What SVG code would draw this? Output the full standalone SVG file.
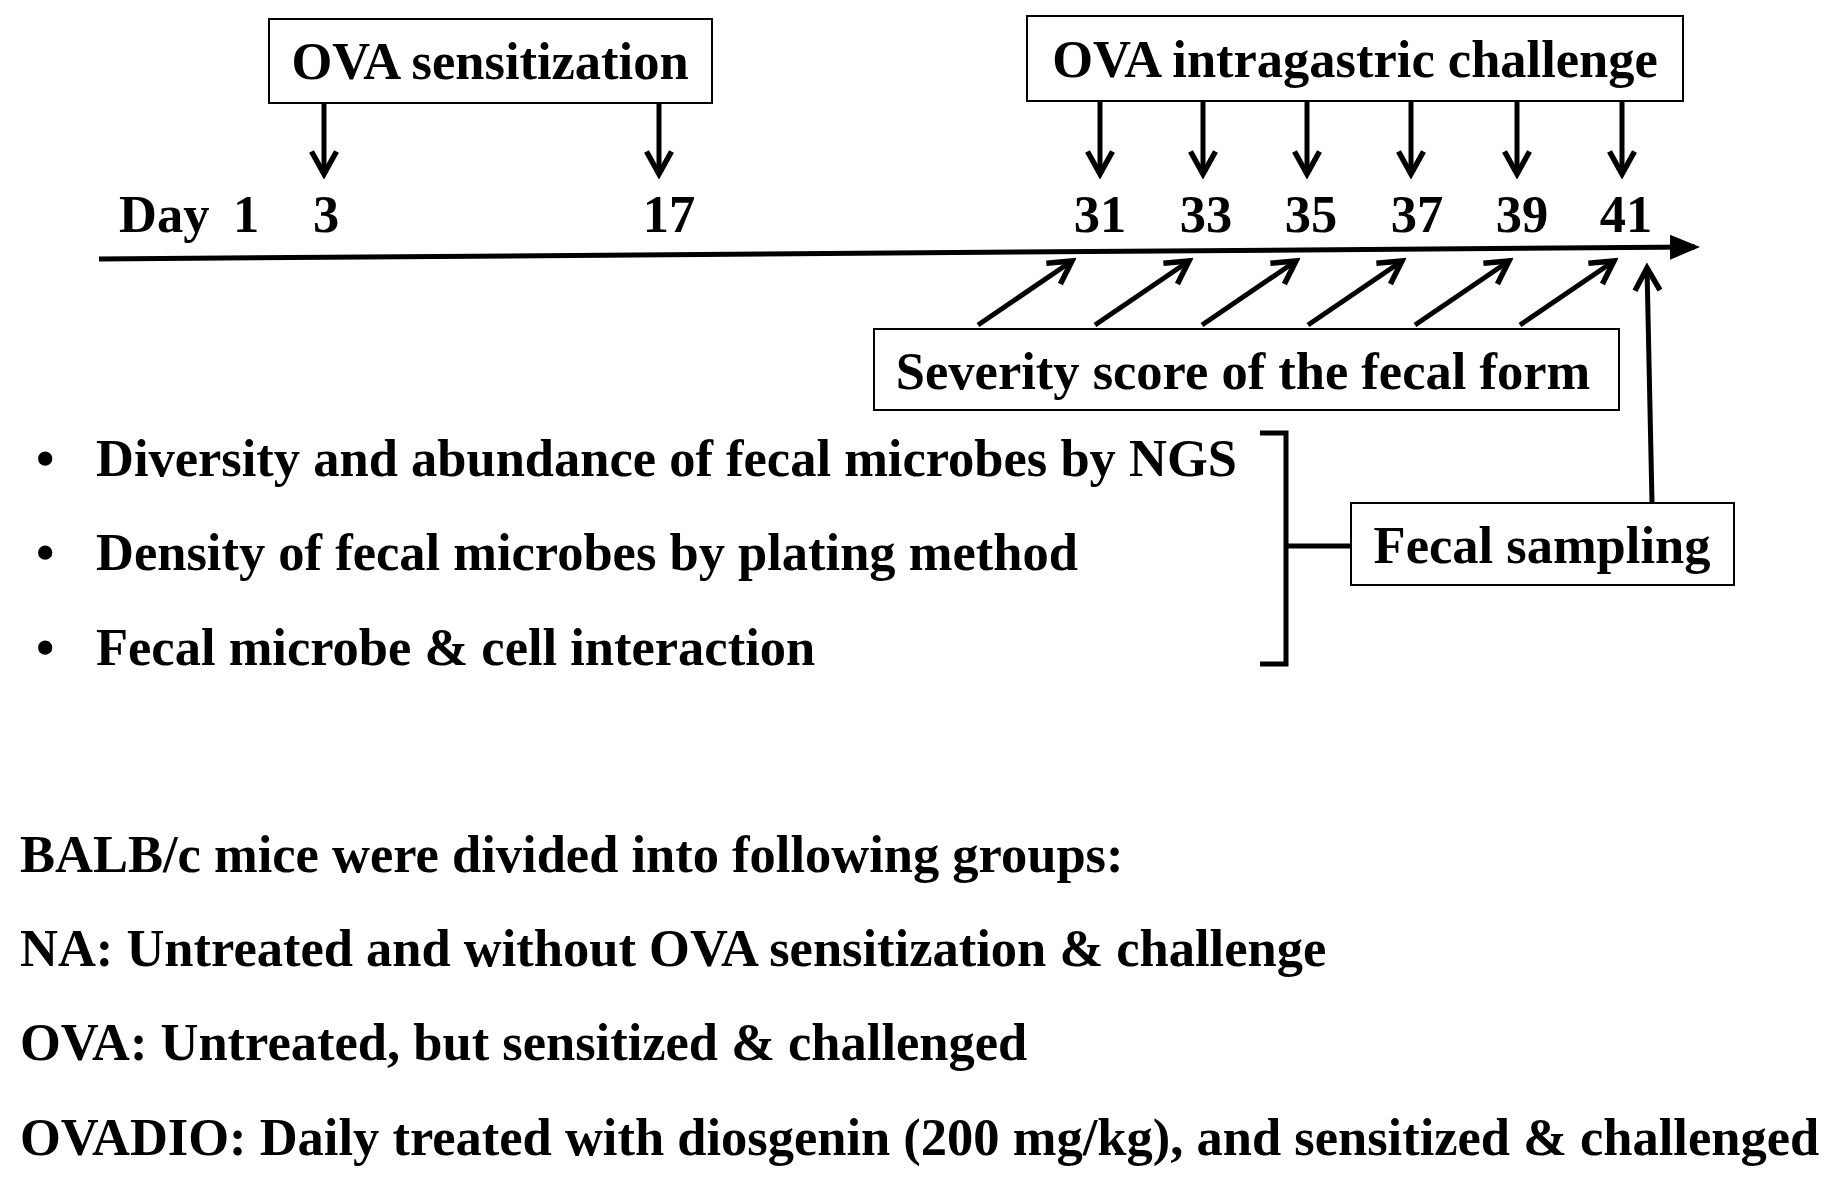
<svg xmlns="http://www.w3.org/2000/svg" width="1834" height="1178" viewBox="0 0 1834 1178">
<style>
text{font-family:"Liberation Serif","Times New Roman",serif;font-weight:bold;font-size:52.5px;fill:#000}
.box{fill:#fff;stroke:#000;stroke-width:2}
.ln{stroke:#000;stroke-width:5;fill:none}
.m{text-anchor:middle}
</style>
<defs>
<marker id="ah" markerWidth="6" markerHeight="6" refX="5" refY="3" orient="auto" markerUnits="strokeWidth">
<path d="M0.5,0.5 L5,3 L0.5,5.5" fill="none" stroke="#000" stroke-width="1.1"/>
</marker>
<marker id="tri" markerWidth="6" markerHeight="6" refX="5" refY="3" orient="auto" markerUnits="strokeWidth">
<path d="M0,0.5 L6,3 L0,5.5 Z" fill="#000"/>
</marker>
</defs>
<rect width="1834" height="1178" fill="#fff"/>
<g id="connectors">
<line class="ln" x1="99" y1="259" x2="1695" y2="247" marker-end="url(#tri)"/>
<line class="ln" x1="324" y1="103" x2="324" y2="174" marker-end="url(#ah)"/>
<line class="ln" x1="659" y1="103" x2="659" y2="174" marker-end="url(#ah)"/>
<line class="ln" x1="1100" y1="101" x2="1100" y2="174" marker-end="url(#ah)"/>
<line class="ln" x1="1203" y1="101" x2="1203" y2="174" marker-end="url(#ah)"/>
<line class="ln" x1="1307" y1="101" x2="1307" y2="174" marker-end="url(#ah)"/>
<line class="ln" x1="1411" y1="101" x2="1411" y2="174" marker-end="url(#ah)"/>
<line class="ln" x1="1517" y1="101" x2="1517" y2="174" marker-end="url(#ah)"/>
<line class="ln" x1="1622" y1="101" x2="1622" y2="174" marker-end="url(#ah)"/>
<line class="ln" x1="978" y1="325" x2="1072" y2="261" marker-end="url(#ah)"/>
<line class="ln" x1="1095" y1="325" x2="1189" y2="261" marker-end="url(#ah)"/>
<line class="ln" x1="1202" y1="325" x2="1296" y2="261" marker-end="url(#ah)"/>
<line class="ln" x1="1308" y1="325" x2="1402" y2="261" marker-end="url(#ah)"/>
<line class="ln" x1="1415" y1="325" x2="1509" y2="261" marker-end="url(#ah)"/>
<line class="ln" x1="1520" y1="325" x2="1614" y2="261" marker-end="url(#ah)"/>
<line class="ln" x1="1652" y1="503" x2="1647" y2="268" marker-end="url(#ah)" stroke-width="4"/>
<path class="ln" d="M1260,433 H1286 V664 H1260 M1286,546 H1351" stroke-width="4"/>
</g>
<g id="ova-sensitization"><rect class="box" x="269" y="19" width="443" height="84"/><text class="m" x="490" y="79">OVA sensitization</text></g>
<g id="ova-challenge"><rect class="box" x="1027" y="16" width="656" height="85"/><text class="m" x="1355" y="77">OVA intragastric challenge</text></g>
<g id="severity"><rect class="box" x="874" y="329" width="745" height="81"/><text class="m" x="1243" y="389">Severity score of the fecal form</text></g>
<g id="fecal-sampling"><rect class="box" x="1351" y="503" width="383" height="82"/><text class="m" x="1542" y="563">Fecal sampling</text></g>
<g id="days">
<text x="119" y="232">Day</text>
<text class="m" x="246" y="232">1</text>
<text class="m" x="326" y="232">3</text>
<text class="m" x="669" y="232">17</text>
<text class="m" x="1100" y="232">31</text>
<text class="m" x="1206" y="232">33</text>
<text class="m" x="1311" y="232">35</text>
<text class="m" x="1417" y="232">37</text>
<text class="m" x="1522" y="232">39</text>
<text class="m" x="1626" y="232">41</text>
</g>
<g id="bullets">
<text x="36" y="476">•</text><text x="96" y="476">Diversity and abundance of fecal microbes by NGS</text>
<text x="36" y="570">•</text><text x="96" y="570">Density of fecal microbes by plating method</text>
<text x="36" y="665">•</text><text x="96" y="665">Fecal microbe &amp; cell interaction</text>
</g>
<g id="groups">
<text x="20" y="872">BALB/c mice were divided into following groups:</text>
<text x="20" y="966">NA: Untreated and without OVA sensitization &amp; challenge</text>
<text x="20" y="1060">OVA: Untreated, but sensitized &amp; challenged</text>
<text x="20" y="1155">OVADIO: Daily treated with diosgenin (200 mg/kg), and sensitized &amp; challenged</text>
</g>
</svg>
